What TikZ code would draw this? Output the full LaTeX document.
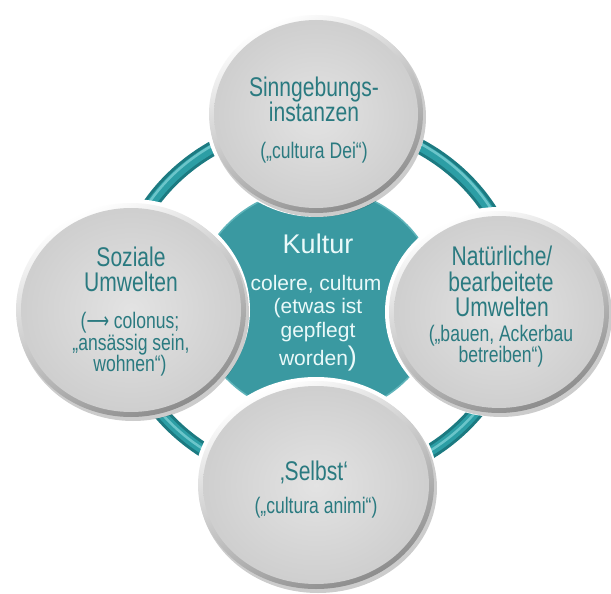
\documentclass[tikz,border=0pt]{standalone}
\usepackage{fontspec}
\setmainfont{Liberation Sans}
\newfontfamily\narrowfont{Liberation Sans}[FakeStretch=0.78]
\newfontfamily\arrowfont{DejaVu Sans}[FakeStretch=0.7]
\definecolor{ringdark}{HTML}{1C7A81}
\definecolor{ringmid}{HTML}{2C9EA5}
\definecolor{ringlight}{HTML}{86D6DA}
\definecolor{kteal}{HTML}{3A99A1}
\definecolor{ktealedge}{HTML}{5FB4BA}
\definecolor{bubtext}{HTML}{2A7A80}
\definecolor{centertext}{HTML}{EAF9F9}
\newcommand\drawbubble[4]{%
  \fill[white] (#1,#2) ellipse [x radius=#3pt+4pt, y radius=#4pt+4pt];
  \fill[black, opacity=.2] ({#1+2},{#2+3}) ellipse [x radius=#3pt+1pt, y radius=#4pt+1pt];
  \shade[top color=white, bottom color=black!45, shading angle=25] (#1,#2) ellipse [x radius=#3pt, y radius=#4pt];
  \shade[inner color=black!11, outer color=black!19] (#1,#2) ellipse [x radius=#3pt-5pt, y radius=#4pt-5pt];
}
\begin{document}
\begin{tikzpicture}[x=1pt,y=-1pt,
  title/.style={font=\narrowfont\fontsize{27}{27}\selectfont, text=bubtext, anchor=base, inner sep=0pt},
  sub/.style={font=\narrowfont\fontsize{22.5}{22.5}\selectfont, text=bubtext, anchor=base, inner sep=0pt},
  ktitle/.style={font=\fontsize{27}{27}\selectfont, text=centertext, anchor=base, inner sep=0pt},
  ksub/.style={font=\fontsize{21}{21}\selectfont, text=centertext, anchor=base, inner sep=0pt}]
\useasboundingbox (0,0) rectangle (611,594);
\fill[white] (0,0) rectangle (611,594);
% ring
\draw[ringdark, line width=15pt] (318,302) ellipse [x radius=199pt, y radius=181pt];
\draw[ringmid, line width=9pt] (318,302) ellipse [x radius=199pt, y radius=181pt];
\draw[ringlight, line width=2.5pt, opacity=.7] (318,300) ellipse [x radius=200pt, y radius=182pt];
% centre
\fill[kteal] (317,302) ellipse [x radius=122pt, y radius=114pt];
\draw[ktealedge, line width=1.5pt] (317,302) ellipse [x radius=122pt, y radius=114pt];
% bubbles
\drawbubble{316}{114}{107}{99}
\drawbubble{131}{310}{115}{107}
\drawbubble{499}{312}{110}{101}
\drawbubble{316}{485}{118}{104}
% top text
\node[title] (t1) at (314,96.5) {Sinngebungs-};
\node[title] (t2) at (314,121.5) {instanzen};
\node[sub] (t3) at (314,158) {(„cultura Dei“)};
% left text
\node[title] (l1) at (131,266) {Soziale};
\node[title] (l2) at (131,291) {Umwelten};
\node[sub] (l3) at (130,328) {({\arrowfont ⟶} colonus;};
\node[sub] (l4) at (131,350) {„ansässig sein,};
\node[sub] (l5) at (130,371) {wohnen“)};
% right text
\node[title] (r1) at (502,265) {Natürliche/};
\node[title] (r2) at (501,291) {bearbeitete};
\node[title] (r3) at (502,316) {Umwelten};
\node[sub] (r4) at (501,341) {(„bauen, Ackerbau};
\node[sub] (r5) at (501,362) {betreiben“)};
% bottom text
\node[title] (b1) at (314,480) {‚Selbst‘};
\node[sub] (b2) at (316,513) {(„cultura animi“)};
% centre text
\node[ktitle] (k1) at (318,253) {Kultur};
\node[ksub] (k2) at (316,290) {colere, cultum};
\node[ksub] (k3) at (318,313) {(etwas ist};
\node[ksub] (k4) at (318,337) {gepflegt};
\node[ksub] (k5) at (318,365) {worden{\fontsize{27}{27}\selectfont)}};
\end{tikzpicture}
\end{document}
